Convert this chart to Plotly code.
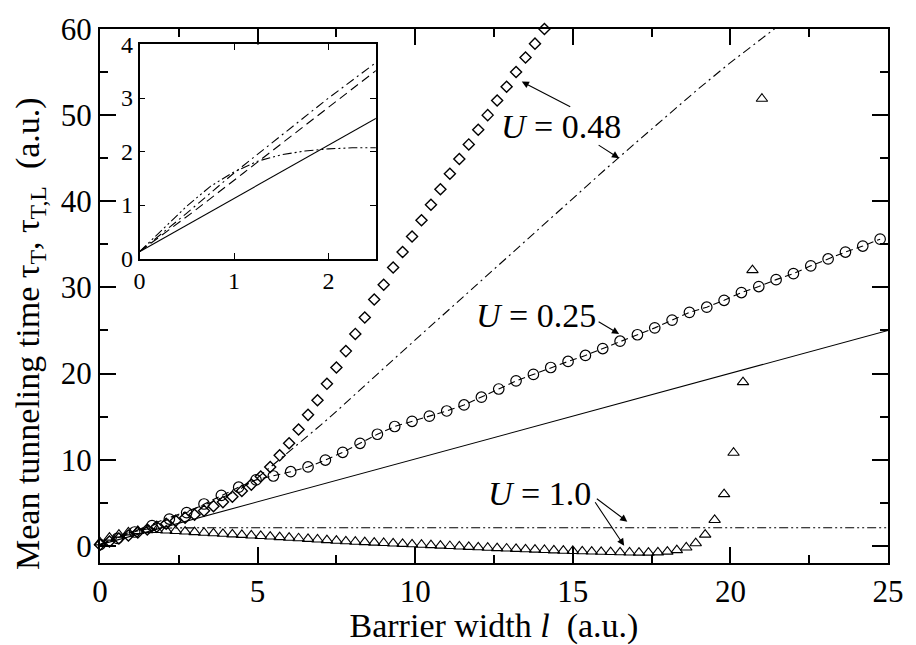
import plotly.graph_objects as go

# ---------------- data ----------------
# U = 0.48, tau_T (diamonds)
dia_x = [0.0, 0.3, 0.6, 0.9, 1.2, 1.5, 1.8, 2.1, 2.4, 2.7, 3.0, 3.3, 3.6, 3.9, 4.2, 4.5,
         4.8, 5.1, 5.4, 5.7, 6.0, 6.3, 6.6, 6.9, 7.2, 7.5, 7.8, 8.1, 8.4, 8.7, 9.0, 9.3,
         9.6, 9.9, 10.2, 10.5, 10.8, 11.1, 11.4, 11.7, 12.0, 12.3, 12.6, 12.9, 13.2, 13.5,
         13.8, 14.1]
dia_y = [0.13, 0.5, 0.85, 1.2, 1.55, 1.9, 2.2, 2.55, 2.9, 3.25, 3.6, 4.06, 4.6, 5.07, 5.7, 6.37,
         7.1, 8.04, 9.15, 10.5, 11.9, 13.5, 15.2, 16.9, 18.8, 20.7, 22.6, 24.6, 26.5, 28.6, 30.3, 32.3,
         34.1, 35.9, 37.8, 39.6, 41.4, 43.2, 44.9, 46.6, 48.3, 50.0, 51.7, 53.3, 55.0, 56.7,
         58.3, 60.0]

# U = 0.48, tau_T,L (dash-dot)
dd_x = [0.0, 0.5, 1.0, 1.5, 2.0, 2.5, 3.0, 3.5, 4.0, 4.5, 5.0, 5.5, 6.0, 6.5, 7.0, 7.5, 8.0,
        9.0, 10.0, 11.0, 12.0, 13.0, 14.0, 15.0, 16.0, 17.0, 18.0, 19.0, 20.0, 21.0, 22.0]
dd_y = [0.13, 0.85, 1.6, 2.3, 3.0, 3.66, 4.3, 5.0, 5.8, 6.7, 7.9, 9.4, 10.9, 12.5, 14.0, 15.6, 17.3,
        20.6, 23.9, 27.2, 30.5, 33.8, 37.1, 40.4, 43.6, 46.8, 50.0, 53.1, 56.1, 58.9, 61.7]

# U = 0.25 (circles + dashed line)
cir_x = [0.0, 0.55, 1.1, 1.65, 2.2, 2.75, 3.3, 3.85, 4.4, 4.95, 5.5, 6.05, 6.6, 7.15, 7.7,
         8.25, 8.8, 9.35, 9.9, 10.45, 11.0, 11.55, 12.1, 12.65, 13.2, 13.75, 14.3, 14.85,
         15.4, 15.95, 16.5, 17.05, 17.6, 18.15, 18.7, 19.25, 19.8, 20.35, 20.9, 21.45, 22.0,
         22.55, 23.1, 23.65, 24.2, 24.75]
cir_y = [0.13, 0.85, 1.6, 2.35, 3.1, 3.85, 4.85, 5.85, 6.8, 7.65, 8.1, 8.6, 9.15, 9.95, 10.85,
         11.9, 12.95, 13.85, 14.45, 15.05, 15.65, 16.35, 17.25, 18.2, 19.15, 19.9, 20.7, 21.4,
         22.1, 22.9, 23.75, 24.5, 25.3, 26.2, 27.1, 27.7, 28.5, 29.4, 30.1, 30.9, 31.6,
         32.5, 33.3, 34.1, 34.8, 35.6]

# solid reference line
sol_x = [0.0, 25.0]
sol_y = [0.13, 25.0]

# U = 1.0, tau_T,L (dash-dot-dot)
ddd_x = [0.0, 0.25, 0.5, 0.75, 1.0, 1.25, 1.5, 1.75, 2.0, 2.25, 2.5, 5.0, 25.0]
ddd_y = [0.13, 0.55, 0.98, 1.35, 1.62, 1.82, 1.94, 2.01, 2.05, 2.07, 2.08, 2.1, 2.1]

# U = 1.0, tau_T (triangles)
tri_x = [0.0, 0.3, 0.6, 0.9, 1.2, 1.5, 1.8, 2.1, 2.4, 2.7, 3.0, 3.3, 3.6, 3.9, 4.2, 4.5, 4.8,
         5.1, 5.4, 5.7, 6.0, 6.3, 6.6, 6.9, 7.2, 7.5, 7.8, 8.1, 8.4, 8.7, 9.0, 9.3, 9.6, 9.9,
         10.2, 10.5, 10.8, 11.1, 11.4, 11.7, 12.0, 12.3, 12.6, 12.9, 13.2, 13.5, 13.8, 14.1,
         14.4, 14.7, 15.0, 15.3, 15.6, 15.9, 16.2, 16.5, 16.8, 17.1, 17.4, 17.7, 18.0, 18.3,
         18.6, 18.9, 19.2, 19.5, 19.8, 20.1, 20.4, 20.7, 21.0]
tri_y = [0.4, 0.95, 1.3, 1.55, 1.72, 1.82, 1.83, 1.78, 1.72, 1.65, 1.58, 1.51, 1.45, 1.39, 1.32,
         1.26, 1.2, 1.14, 1.07, 1.0, 0.94, 0.87, 0.8, 0.73, 0.66, 0.59, 0.52, 0.47, 0.42, 0.37,
         0.32, 0.27, 0.22, 0.17, 0.12, 0.07, 0.02, -0.03, -0.08, -0.13, -0.18, -0.23, -0.27,
         -0.32, -0.36, -0.41, -0.45, -0.49, -0.53, -0.57, -0.6, -0.64, -0.67, -0.7, -0.73,
         -0.76, -0.78, -0.8, -0.8, -0.77, -0.68, -0.5, -0.2, 0.3, 1.3, 3.0, 6.0, 10.8, 19.0,
         32.0, 51.9]

x_ticks = [0, 5, 10, 15, 20, 25]
y_ticks = [0, 10, 20, 30, 40, 50, 60]
inset_x_ticks = [0, 1, 2]
inset_y_ticks = [0, 1, 2, 3, 4]

FONT = "Liberation Serif"
BLACK = "black"
DASH = "7px,4px"
DASHDOT = "9px,4px,2px,4px"
DASHDOTDOT = "9px,3px,2px,3px,2px,3px"

fig = go.Figure()

# main plot
fig.add_trace(go.Scatter(x=sol_x, y=sol_y, mode="lines",
                         line=dict(color=BLACK, width=1.1)))
fig.add_trace(go.Scatter(x=dd_x, y=dd_y, mode="lines",
                         line=dict(color=BLACK, width=1.1, dash=DASHDOT)))
fig.add_trace(go.Scatter(x=ddd_x, y=ddd_y, mode="lines",
                         line=dict(color=BLACK, width=1.1, dash=DASHDOTDOT)))
fig.add_trace(go.Scatter(x=cir_x, y=cir_y, mode="lines+markers",
                         line=dict(color=BLACK, width=1.1, dash=DASH),
                         marker=dict(symbol="circle-open", size=10.5, color=BLACK,
                                     line=dict(width=1.2, color=BLACK))))
fig.add_trace(go.Scatter(x=dia_x, y=dia_y, mode="markers", cliponaxis=False,
                         marker=dict(symbol="diamond-open", size=8.5, color=BLACK,
                                     line=dict(width=1.4, color=BLACK))))
fig.add_trace(go.Scatter(x=tri_x, y=tri_y, mode="markers", cliponaxis=False,
                         marker=dict(symbol="triangle-up-open", size=10, color=BLACK,
                                     line=dict(width=1.1, color=BLACK))))

# inset
fig.add_trace(go.Scatter(x=sol_x, y=sol_y, mode="lines", xaxis="x2", yaxis="y2",
                         line=dict(color=BLACK, width=1.1)))
fig.add_trace(go.Scatter(x=cir_x, y=cir_y, mode="lines", xaxis="x2", yaxis="y2",
                         line=dict(color=BLACK, width=1.1, dash="9px,5px")))
fig.add_trace(go.Scatter(x=dd_x, y=dd_y, mode="lines", xaxis="x2", yaxis="y2",
                         line=dict(color=BLACK, width=1.1, dash=DASHDOT)))
fig.add_trace(go.Scatter(x=ddd_x, y=ddd_y, mode="lines", xaxis="x2", yaxis="y2",
                         line=dict(color=BLACK, width=1.1, dash=DASHDOTDOT)))

axis_common = dict(showline=True, linecolor=BLACK, linewidth=2, mirror="ticks",
                   ticks="inside", tickcolor=BLACK, showgrid=False, zeroline=False)

fig.update_layout(
    width=916, height=645,
    margin=dict(l=100, r=19, t=17, b=70),
    paper_bgcolor="white", plot_bgcolor="white",
    showlegend=False,
    font=dict(family=FONT, color=BLACK),
    xaxis=dict(axis_common, range=[0, 25], tickvals=x_ticks, ticklen=16, tickwidth=1.5,
               minor=dict(dtick=2.5, tick0=0, ticklen=8, tickwidth=1.5, ticks="inside",
                          tickcolor=BLACK),
               tickfont=dict(size=31, family=FONT),
               title=dict(text="Barrier width <i>l</i>\u00a0 (a.u.)",
                          font=dict(size=34, family=FONT), standoff=0)),
    yaxis=dict(axis_common, range=[-2, 60], tickvals=y_ticks, ticklen=16, tickwidth=1.5,
               minor=dict(dtick=5, tick0=0, ticklen=8, tickwidth=1.5, ticks="inside",
                          tickcolor=BLACK),
               tickfont=dict(size=31, family=FONT)),
    xaxis2=dict(axis_common, domain=[0.0502, 0.350], anchor="y2", range=[0, 2.5],
                tickvals=inset_x_ticks, ticklen=6, tickwidth=1.2, linewidth=1.6,
                tickfont=dict(size=24, family=FONT)),
    yaxis2=dict(axis_common, domain=[0.570, 0.971], anchor="x2", range=[0, 4],
                tickvals=inset_y_ticks, ticklen=6, tickwidth=1.2, linewidth=1.6,
                tickfont=dict(size=24, family=FONT)),
)

# y-axis title placed as a rotated annotation
fig.add_annotation(x=-0.088, y=0.43, xref="paper", yref="paper", textangle=-90,
                   text="Mean tunneling time \u03c4<sub>T</sub>, \u03c4<sub>T,L</sub>\u00a0 (a.u.)",
                   showarrow=False, xanchor="center", yanchor="middle",
                   font=dict(size=34, family=FONT, color=BLACK))

ann_font = dict(size=34, family=FONT, color=BLACK)
fig.add_annotation(x=14.64, y=48.7, xref="x", yref="y", text="<i>U</i> = 0.48",
                   showarrow=False, font=ann_font)
fig.add_annotation(x=13.83, y=26.7, xref="x", yref="y", text="<i>U</i> = 0.25",
                   showarrow=False, font=ann_font)
fig.add_annotation(x=13.95, y=6.09, xref="x", yref="y", text="<i>U</i> = 1.0",
                   showarrow=False, font=ann_font)

arrow = dict(xref="x", yref="y", text="", showarrow=True, arrowhead=2, arrowsize=1.3,
             arrowwidth=1.1, arrowcolor=BLACK, axref="pixel", ayref="pixel")
fig.add_annotation(arrow, x=13.38, y=53.9, ax=50, ay=26)
fig.add_annotation(arrow, x=16.47, y=45.0, ax=-22, ay=-14)
fig.add_annotation(arrow, x=16.47, y=24.6, ax=-22, ay=-13)
fig.add_annotation(arrow, x=16.73, y=2.8, ax=-32, ay=-24)
fig.add_annotation(arrow, x=16.63, y=0.0, ax=-30, ay=-45)

fig.write_html("out.html")
